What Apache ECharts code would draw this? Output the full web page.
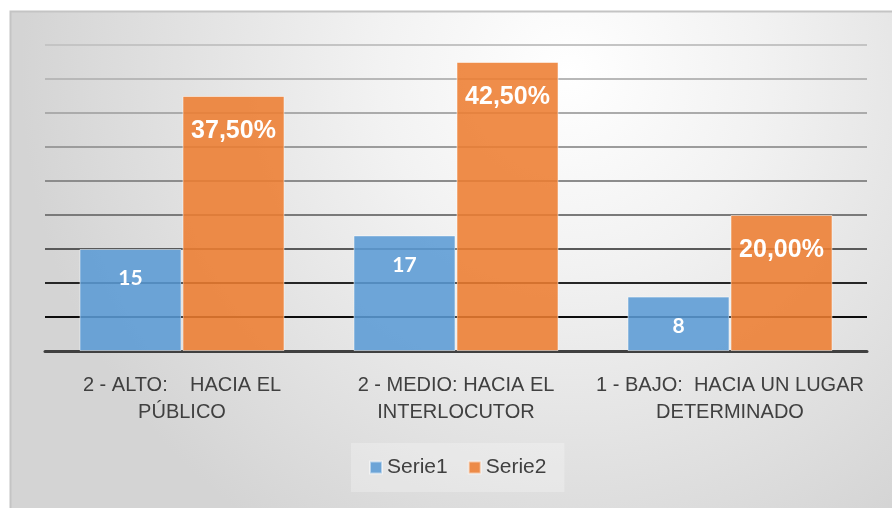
<!DOCTYPE html>
<html>
<head>
<meta charset="utf-8">
<script src="https://cdn.jsdelivr.net/npm/echarts@6/dist/echarts.min.js"></script>
<style>
  html, body { margin: 0; padding: 0; background: #fff; }
  #chart { width: 892px; height: 508px; }
</style>
</head>
<body>
<div id="chart"></div>
<script>
// chart data
const categories = [
  '2 - ALTO:    HACIA EL\nPÚBLICO',
  '2 - MEDIO: HACIA EL\nINTERLOCUTOR',
  '1 - BAJO:  HACIA UN LUGAR\nDETERMINADO'
];
const serie1 = [15, 17, 8];
const serie2 = [37.5, 42.5, 20];
const seriesNames = ['Serie1', 'Serie2'];

// gridline colours, from the 0 line up to the top one (darker near the base)
const gridColors = ['#404040', '#0d0d0d', '#262626', '#595959', '#7a7a7a',
  '#8c8c8c', '#9c9c9c', '#ababab', '#b8b8b8', '#c4c4c4'];

const chart = echarts.init(document.getElementById('chart'), null, { renderer: 'canvas' });

const option = {
  backgroundColor: '#ffffff',
  animation: false,
  graphic: [{
    type: 'rect',
    z: -10,
    shape: { x: 10.5, y: 11.5, width: 900, height: 520 },
    style: {
      fill: {
        type: 'radial', x: 0.62, y: 0.12, r: 1.05,
        colorStops: [
          { offset: 0, color: '#ffffff' },
          { offset: 0.35, color: '#f2f2f2' },
          { offset: 1, color: '#d4d4d4' }
        ]
      },
      stroke: '#c4c4c4',
      lineWidth: 2
    }
  }],
  grid: { left: 45, right: 25, top: 45, bottom: 157 },
  legend: {
    data: seriesNames,
    left: 351,
    top: 443,
    padding: [14, 18],
    backgroundColor: 'rgba(255,255,255,0.25)',
    itemWidth: 12,
    itemHeight: 12,
    itemGap: 20,
    icon: 'rect',
    textStyle: { color: '#404040', fontSize: 21, fontFamily: 'Liberation Sans' }
  },
  xAxis: {
    type: 'category',
    data: categories,
    axisLine: { show: true, lineStyle: { color: '#404040', width: 3 } },
    axisTick: { show: false },
    axisLabel: {
      interval: 0,
      margin: 21,
      color: '#404040',
      fontSize: 20,
      lineHeight: 27,
      fontFamily: 'Liberation Sans'
    }
  },
  yAxis: {
    type: 'value',
    min: 0,
    max: 45,
    interval: 5,
    axisLabel: { show: false },
    axisLine: { show: false },
    axisTick: { show: false },
    splitLine: { lineStyle: { color: gridColors, width: 2 } }
  },
  series: [
    {
      name: seriesNames[0],
      type: 'bar',
      data: serie1,
      barWidth: 102,
      barGap: '1%',
      itemStyle: { color: 'rgba(91,155,213,0.88)', borderColor: 'rgba(255,255,255,0.5)', borderWidth: 1 },
      label: {
        show: true,
        position: 'insideTop',
        distance: 19,
        color: '#ffffff',
        fontSize: 21,
        fontWeight: 'bold',
        fontFamily: 'Lato'
      }
    },
    {
      name: seriesNames[1],
      type: 'bar',
      data: serie2,
      barWidth: 102,
      itemStyle: { color: 'rgba(237,125,49,0.88)', borderColor: 'rgba(255,255,255,0.5)', borderWidth: 1 },
      label: {
        show: true,
        position: 'insideTop',
        distance: 23,
        color: '#ffffff',
        fontSize: 25,
        fontWeight: 'bold',
        fontFamily: 'Liberation Sans',
        formatter: function (p) { return p.value.toFixed(2).replace('.', ',') + '%'; }
      }
    }
  ]
};

chart.setOption(option);
</script>
</body>
</html>
